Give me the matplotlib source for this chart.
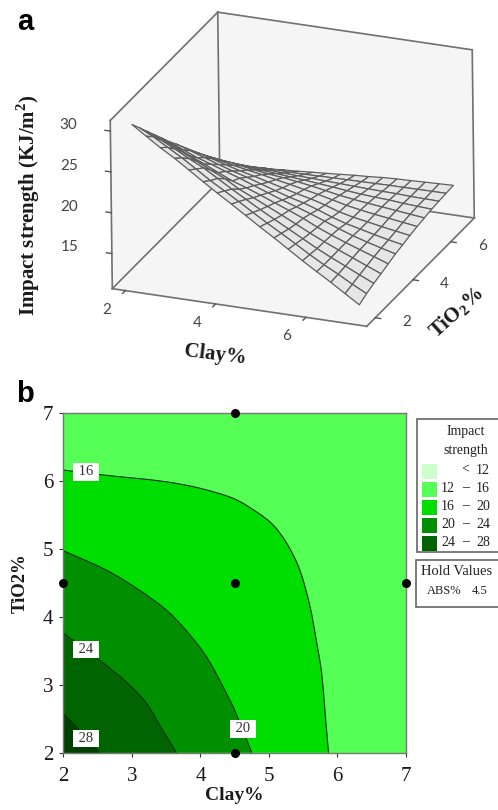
import numpy as np
import matplotlib
matplotlib.use("Agg")
import matplotlib.pyplot as plt
import matplotlib.tri as mtri
from matplotlib.patches import Rectangle, PathPatch
from matplotlib.path import Path
from mpl_toolkits.mplot3d.art3d import Poly3DCollection
from mpl_toolkits.mplot3d import proj3d

W, H = 498, 810
plt.rcParams['font.family'] = ['Liberation Serif', 'DejaVu Serif']
plt.rcParams['mathtext.fontset'] = 'custom'
plt.rcParams['mathtext.rm'] = 'Liberation Serif:bold'
plt.rcParams['mathtext.bf'] = 'Liberation Serif:bold'

clay = [2, 2.5, 3, 3.5, 4, 4.5, 5, 5.5, 6, 6.5, 7]
tio2 = [2, 2.5, 3, 3.5, 4, 4.5, 5, 5.5, 6, 6.5, 7]
# Impact strength, rows = TiO2, columns = Clay
impact = [
    [30.0, 28.1, 26.4, 24.5, 22.7, 20.9, 19.1, 17.3, 15.5, 13.8, 12.0],
    [28.3, 26.9, 25.3, 23.5, 21.9, 20.2, 18.6, 17.0, 15.4, 14.0, 12.6],
    [26.6, 25.3, 23.9, 22.6, 20.9, 19.5, 18.1, 16.7, 15.4, 14.2, 13.0],
    [24.9, 23.5, 22.3, 21.0, 20.0, 18.9, 17.8, 16.5, 15.4, 14.4, 13.4],
    [23.2, 22.0, 21.1, 20.2, 19.2, 18.2, 17.3, 16.3, 15.3, 14.5, 13.8],
    [21.6, 20.8, 19.9, 19.1, 18.3, 17.5, 16.8, 15.8, 15.2, 14.6, 14.1],
    [19.9, 19.3, 18.7, 18.2, 17.6, 17.0, 16.4, 15.7, 15.2, 14.8, 14.4],
    [18.2, 17.9, 17.5, 17.1, 16.8, 16.4, 15.9, 15.5, 15.2, 14.9, 14.6],
    [16.6, 16.4, 16.2, 16.0, 15.8, 15.6, 15.4, 15.2, 15.1, 14.9, 14.8],
    [14.9, 14.9, 15.0, 14.9, 14.9, 14.9, 14.9, 14.9, 14.9, 14.9, 14.9],
    [13.2, 13.5, 13.7, 13.9, 14.1, 14.3, 14.5, 14.7, 14.8, 14.9, 15.0],
]
# Contour traces: Clay%, TiO2%
c16_clay = [2, 2.53, 3.01, 3.5, 3.99, 4.48, 4.82, 5.06, 5.26, 5.45, 5.6, 5.69, 5.77, 5.82, 5.87]
c16_tio2 = [6.157, 6.09, 6.04, 5.985, 5.89, 5.74, 5.54, 5.35, 5.08, 4.69, 4.15, 3.66, 3.17, 2.58, 2.0]
c20_clay = [2, 2.62, 3.11, 3.5, 3.79, 4.09, 4.33, 4.52, 4.75]
c20_tio2 = [4.97, 4.69, 4.39, 4.1, 3.8, 3.41, 2.97, 2.58, 2.0]
c24_clay = [2, 2.53, 2.92, 3.21, 3.45, 3.65]
c24_tio2 = [3.76, 3.36, 3.04, 2.73, 2.33, 2.0]
c28_clay = [2, 2.19, 2.38, 2.53]
c28_tio2 = [2.58, 2.38, 2.16, 2.0]
area_colors = ['#00dd00', '#008f00', '#006400', '#004000']
background_color = '#55ff55'
legend_colors = ['#ccffcc', '#55ff55', '#00dd00', '#008f00', '#006400']
legend_low = ['', '12', '16', '20', '24']
legend_high = ['12', '16', '20', '24', '28']
design_clay = [2, 4.5, 4.5, 7, 4.5]
design_tio2 = [4.5, 7, 4.5, 4.5, 2]
contour_label_values = ['16', '24', '28', '20']
contour_label_clay = [2.33, 2.33, 2.33, 4.62]
contour_label_tio2 = [6.13, 3.52, 2.21, 2.35]
ticks_z = [15, 20, 25, 30]
ticks_xy = [2, 4, 6]
ticks_b = [2, 3, 4, 5, 6, 7]

X, Y = np.meshgrid(clay, tio2)
Z = np.array(impact)
tri = mtri.Triangulation(X.ravel(), Y.ravel())
surf = mtri.CubicTriInterpolator(tri, Z.ravel(), kind='geom')

fig = plt.figure(figsize=(W / 100, H / 100), dpi=100)

def rect(l, t, r, b):
    return [l / W, 1 - b / H, (r - l) / W, (b - t) / H]

def px(x, y):
    return x / W, 1 - y / H

# ---------- panel a ----------
side = 500
cx, cy = 285.5, 176
ax3 = fig.add_axes(rect(cx - side / 2, cy - side / 2, cx + side / 2, cy + side / 2), projection='3d')
ax3.set_proj_type('ortho')
ax3.view_init(elev=23.4, azim=-68, roll=0.7)
xl = (1.71, 7.35)
yl = (1.55, 7.25)
zl = (10.7, 31.3)
ax3.set_xlim(*xl); ax3.set_ylim(*yl); ax3.set_zlim(*zl)
ax3.set_box_aspect((275, 291.6, 184), zoom=0.853)
ax3.set_axis_off()
ax3.patch.set_alpha(0)
ax3.computed_zorder = False

pane = '#f5f5f5'
x0, x1 = xl; y0, y1 = yl; z0, z1 = zl
for verts in ([(x0, y0, z0), (x1, y0, z0), (x1, y1, z0), (x0, y1, z0)],
              [(x0, y0, z0), (x0, y1, z0), (x0, y1, z1), (x0, y0, z1)],
              [(x0, y1, z0), (x1, y1, z0), (x1, y1, z1), (x0, y1, z1)]):
    ax3.add_collection3d(Poly3DCollection([verts], facecolors=pane, edgecolors='none', zorder=1))
edge = dict(color='#707070', lw=1.2, zorder=2)
for a, b in [((x0, y0, z0), (x1, y0, z0)), ((x1, y0, z0), (x1, y1, z0)), ((x1, y1, z0), (x0, y1, z0)),
             ((x0, y1, z0), (x0, y0, z0)), ((x0, y0, z0), (x0, y0, z1)), ((x0, y1, z0), (x0, y1, z1)),
             ((x1, y1, z0), (x1, y1, z1)), ((x0, y0, z1), (x0, y1, z1)), ((x0, y1, z1), (x1, y1, z1))]:
    ax3.plot(*zip(a, b), **edge)

mx, my = np.meshgrid(np.linspace(2, 7, 17), np.linspace(2, 7, 14))
mz = np.asarray(surf(mx, my))
ax3.plot_surface(mx, my, mz, rstride=1, cstride=1, color='#e6e6e6', edgecolor='#5e5e5e',
                 linewidth=0.9, shade=False, zorder=3, antialiased=True)

tick_col = '#555555'
lab_font = dict(family='Lato', fontsize=11, color='#444444', ha='center', va='center', zorder=5)
proj = ax3.get_proj()

def label3d(x, y, z, s):
    u, v, _ = proj3d.proj_transform(x, y, z, proj)
    ax3.text2D(u, v, s, transform=ax3.transData, **lab_font)

for v in ticks_z:
    ax3.plot([x0, x0 - 0.12], [y0, y0], [v, v], color=tick_col, lw=1, zorder=2)
    label3d(x0 - 0.93, y0, v, str(v))
for v in ticks_xy:
    ax3.plot([v, v], [y0, y0 - 0.15], [z0, z0], color=tick_col, lw=1, zorder=2)
    label3d(v, y0 - 1.0, z0, str(v))
    ax3.plot([x1, x1 + 0.12], [v, v], [z0, z0], color=tick_col, lw=1, zorder=2)
    label3d(x1 + 0.7, v, z0, str(v))

bold = dict(family='Liberation Serif', fontweight='bold', color='#1a1a1a', ha='center', va='center')
fig.text(*px(28, 205), r'Impact strength (KJ/m$^{\mathbf{2}}$)', rotation=90, fontsize=15, **bold)
fig.text(*px(215, 355), 'Clay%', rotation=-7, fontsize=15, **bold)
fig.text(*px(457, 313), r'TiO$_{\mathbf{2}}$%', rotation=42, fontsize=15, **bold)
letter = dict(family='Liberation Sans', fontweight='bold', color='black', fontsize=21, ha='left', va='baseline')
fig.text(*px(17, 30), 'a', **letter)
fig.text(*px(16, 402), 'b', **letter)

# ---------- panel b ----------
ax = fig.add_axes(rect(63.3, 412.7, 406, 752.7))
ax.set_facecolor(background_color)
ax.set_xlim(2, 7); ax.set_ylim(2, 7)

def smooth_path(xs, ys):
    p = np.column_stack([xs, ys])
    q = np.vstack([2 * p[0] - p[1], p, 2 * p[-1] - p[-2]])
    verts = [p[0]]
    for i in range(1, len(q) - 2):
        verts += [q[i] + (q[i + 1] - q[i - 1]) / 6, q[i + 1] - (q[i + 2] - q[i]) / 6, q[i + 1]]
    return verts

for cxs, cys, col in zip([c16_clay, c20_clay, c24_clay, c28_clay],
                         [c16_tio2, c20_tio2, c24_tio2, c28_tio2], area_colors):
    v = smooth_path(cxs, cys)
    codes = [Path.MOVETO] + [Path.CURVE4] * (len(v) - 1)
    ax.add_patch(PathPatch(Path(v + [(2, 2), v[0]], codes + [Path.LINETO, Path.LINETO]), fc=col, ec='none', zorder=2))
    ax.add_patch(PathPatch(Path(v, codes), fc='none', ec='#103010', lw=0.8, zorder=3))
ax.set_xticks(ticks_b); ax.set_yticks(ticks_b)
ax.tick_params(length=3, width=0.8, color='#333333', labelsize=15, labelcolor='#1a1a1a')
ax.tick_params(axis='x', pad=7)
ax.tick_params(axis='y', pad=4)
for s in ax.spines.values():
    s.set_color('#777777'); s.set_linewidth(1.0); s.set_zorder(4)
ax.scatter(design_clay, design_tio2, s=30, color='black', zorder=6, clip_on=False)
for s, cxv, tv in zip(contour_label_values, contour_label_clay, contour_label_tio2):
    ax.text(cxv, tv, ' ' + s + ' ', ha='center', va='center', fontsize=10.5, color='#333333', zorder=5,
            bbox=dict(boxstyle='square,pad=0.15', fc='white', ec='none'))
ax.set_xlabel('Clay%', fontsize=14, fontweight='bold', color='#1a1a1a', va='center')
ax.xaxis.set_label_coords(0.5, -0.127)
ax.set_ylabel('TiO2%', fontsize=13.5, fontweight='bold', color='#1a1a1a', va='center')
ax.yaxis.set_label_coords(-0.125, 0.5)

# ---------- legend boxes ----------
def box(l, t, r, b):
    fig.add_artist(Rectangle((l / W, 1 - b / H), (r - l) / W, (b - t) / H, transform=fig.transFigure,
                             fc='white', ec='#666666', lw=1.2, clip_on=False))

box(416.5, 419, 500, 551.5)
box(415.5, 560, 500, 606.5)
small = dict(fontsize=10, color='#222222', ha='center', va='center')
fig.text(*px(466, 431.5), 'Impact', **small)
fig.text(*px(466, 450.5), 'strength', **small)
row_t = [463.5, 481.5, 499.5, 517.5, 535.5]
for t, c, lo, hi in zip(row_t, legend_colors, legend_low, legend_high):
    fig.add_artist(Rectangle((421.7 / W, 1 - (t + 15) / H), 15 / W, 15 / H, transform=fig.transFigure,
                             fc=c, ec='none'))
    y = t + 6.5
    if lo:
        fig.text(*px(448, y), lo, **small)
        fig.text(*px(466, y), '\u2013', **small)
    else:
        fig.text(*px(465, y), '<', **small)
    fig.text(*px(483, y), hi, **small)
fig.text(*px(457, 571.5), 'Hold Values', fontsize=10.5, color='#222222', ha='center', va='center')
fig.text(*px(444, 590.5), 'ABS%', fontsize=9, color='#222222', ha='center', va='center')
fig.text(*px(480, 590.5), '4.5', fontsize=9, color='#222222', ha='center', va='center')

fig.savefig('out.png', dpi=100, facecolor='white')
